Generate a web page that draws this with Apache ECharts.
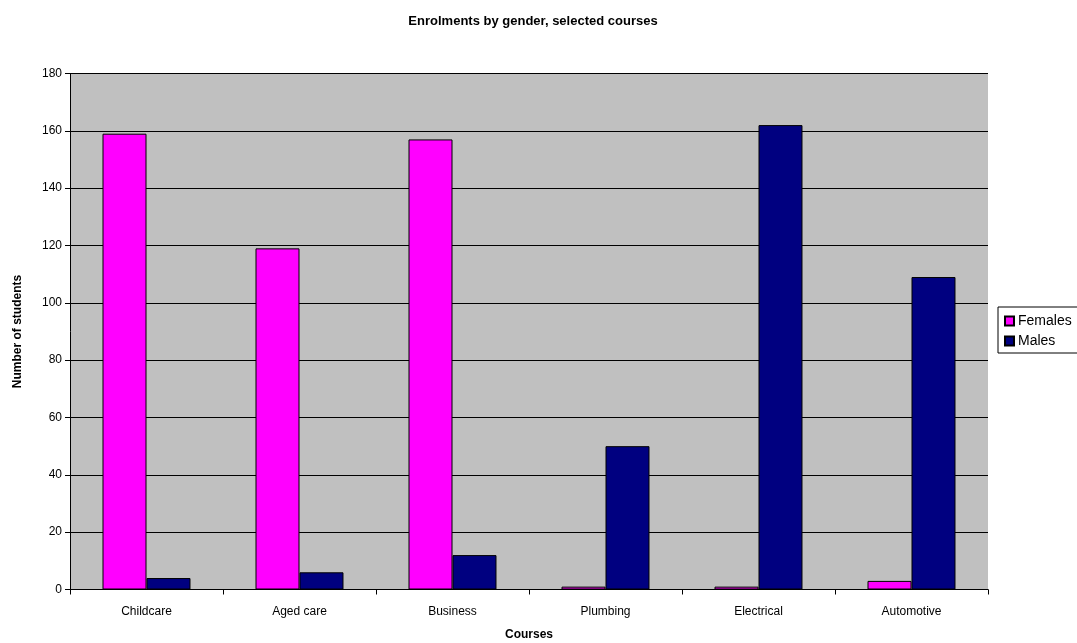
<!DOCTYPE html>
<html>
<head>
<meta charset="utf-8">
<script src="https://cdn.jsdelivr.net/npm/echarts@6/dist/echarts.min.js"></script>
<style>
  html, body { margin: 0; padding: 0; background: #fff; }
  #chart { width: 1077px; height: 643px; }
</style>
</head>
<body>
<div id="chart"></div>
<script>
// Course categories and enrolment counts per gender
const courses = ['Childcare', 'Aged care', 'Business', 'Plumbing', 'Electrical', 'Automotive'];
const females = [159, 119, 157, 1, 1, 3];
const males = [4, 6, 12, 50, 162, 109];

const FONT = '"Liberation Sans", Arial, sans-serif';

const chart = echarts.init(document.getElementById('chart'), null, { renderer: 'canvas' });

chart.setOption({
  backgroundColor: '#ffffff',
  animation: false,
  textStyle: { fontFamily: FONT, color: '#000' },
  title: {
    text: 'Enrolments by gender, selected courses',
    left: 528,
    textAlign: 'center',
    top: 10,
    textStyle: { fontFamily: FONT, fontSize: 13, fontWeight: 'bold', color: '#000' }
  },
  legend: {
    orient: 'vertical',
    left: 998,
    top: 307,
    padding: [7, 10, 5, 6],
    itemGap: 6,
    itemWidth: 9,
    itemHeight: 9,
    icon: 'rect',
    borderColor: '#000',
    borderWidth: 1,
    backgroundColor: '#fff',
    textStyle: { fontFamily: FONT, fontSize: 14, color: '#000', padding: [0, 0, 0, -1] },
    data: ['Females', 'Males']
  },
  grid: {
    left: 70,
    right: 89,
    top: 73.5,
    bottom: 53.5,
    outerBoundsMode: 'none',
    containLabel: false,
    show: true,
    backgroundColor: '#c0c0c0',
    borderWidth: 0
  },
  xAxis: {
    type: 'category',
    data: courses,
    name: 'Courses',
    nameLocation: 'middle',
    nameGap: 39,
    nameTextStyle: { fontFamily: FONT, fontSize: 12, fontWeight: 'bold', color: '#000' },
    axisLine: { lineStyle: { color: '#000', width: 1 } },
    axisTick: { show: true, length: 5, alignWithLabel: false, lineStyle: { color: '#000' } },
    axisLabel: { fontFamily: FONT, fontSize: 12, color: '#000', margin: 16 }
  },
  yAxis: {
    type: 'value',
    min: 0,
    max: 180,
    interval: 20,
    name: 'Number of students',
    nameLocation: 'middle',
    nameGap: 46,
    nameTextStyle: { fontFamily: FONT, fontSize: 12, fontWeight: 'bold', color: '#000' },
    axisLine: { show: true, lineStyle: { color: '#000', width: 1 } },
    axisTick: { show: true, length: 5, lineStyle: { color: '#000' } },
    axisLabel: { fontFamily: FONT, fontSize: 12, color: '#000', margin: 8 },
    splitLine: { show: true, lineStyle: { color: '#000', width: 1 } }
  },
  series: [
    {
      name: 'Females',
      type: 'bar',
      data: females,
      barGap: '0%',
      barCategoryGap: '42.5%',
      itemStyle: { color: '#ff00ff', borderColor: '#000', borderWidth: 1 }
    },
    {
      name: 'Males',
      type: 'bar',
      data: males,
      itemStyle: { color: '#000080', borderColor: '#000', borderWidth: 1 }
    }
  ]
});
</script>
</body>
</html>
